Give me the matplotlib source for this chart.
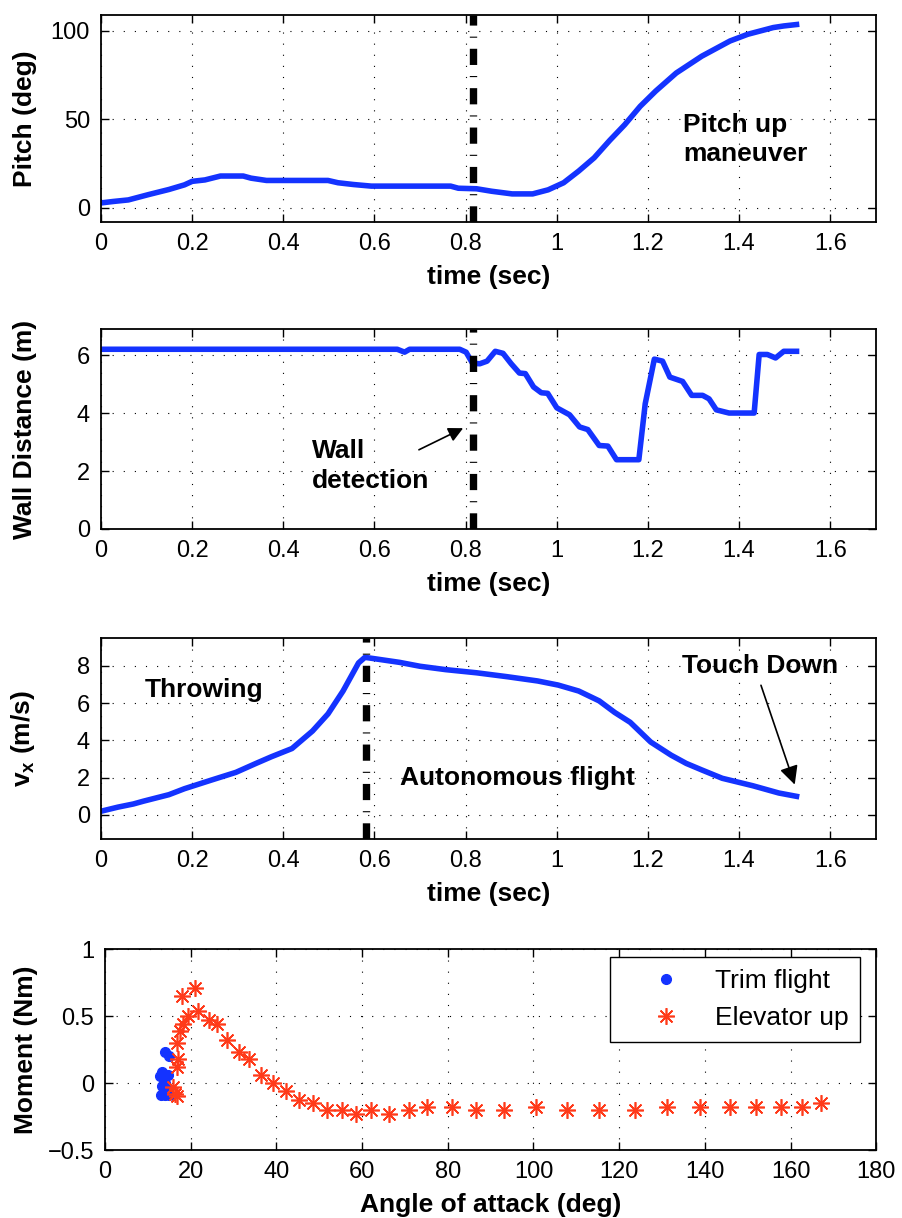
import matplotlib
matplotlib.use("Agg")
import matplotlib.pyplot as plt

plt.rcParams["font.family"] = ["Liberation Sans", "DejaVu Sans"]
plt.rcParams["mathtext.fontset"] = "custom"
plt.rcParams["mathtext.rm"] = "Liberation Sans"
plt.rcParams["mathtext.bf"] = "Liberation Sans:bold"

BLUE = "#1433ff"
RED = "#ff3a1a"

# pitch angle during the flight
pitch_t = [0, 0.026, 0.06, 0.104, 0.149, 0.183, 0.2, 0.228, 0.262, 0.312, 0.329,
           0.363, 0.498, 0.52, 0.554, 0.593, 0.767, 0.784, 0.824, 0.857, 0.902,
           0.947, 0.981, 1.015, 1.048, 1.082, 1.116, 1.149, 1.183, 1.217, 1.262,
           1.318, 1.38, 1.419, 1.475, 1.498, 1.526]
pitch = [2.8, 3.6, 4.5, 7.5, 10.4, 13, 15, 15.8, 18, 18, 16.8,
         15.5, 15.5, 14.2, 13.2, 12.3, 12.3, 11.1, 10.8, 9.4, 7.9,
         7.9, 10.2, 14.2, 20.8, 28.3, 38.1, 47, 57.4, 66, 76.2,
         85.7, 94.3, 98.1, 101.9, 102.8, 103.6]

# sonar wall distance
wall_t = [0, 0.4, 0.65, 0.666, 0.677, 0.787, 0.801, 0.815, 0.831, 0.847, 0.865,
          0.882, 0.9, 0.918, 0.931, 0.949, 0.966, 0.98, 1.0, 1.028, 1.05,
          1.068, 1.093, 1.112, 1.131, 1.18, 1.194, 1.214, 1.232, 1.248, 1.276,
          1.296, 1.32, 1.334, 1.35, 1.378, 1.433, 1.444, 1.462, 1.48, 1.498, 1.526]
wall = [6.2, 6.2, 6.2, 6.1, 6.2, 6.2, 6.1, 5.72, 5.7, 5.79, 6.13,
        6.06, 5.7, 5.38, 5.36, 4.9, 4.7, 4.68, 4.18, 3.94, 3.52,
        3.43, 2.88, 2.86, 2.39, 2.39, 4.32, 5.86, 5.79, 5.24, 5.09,
        4.61, 4.61, 4.49, 4.11, 4.0, 4.0, 6.02, 6.02, 5.9, 6.13, 6.13]

# forward velocity
vx_t = [0, 0.037, 0.071, 0.093, 0.149, 0.183, 0.239, 0.296, 0.34, 0.374, 0.419,
        0.464, 0.498, 0.531, 0.565, 0.579, 0.599, 0.655, 0.7, 0.756, 0.824,
        0.891, 0.958, 1.003, 1.048, 1.093, 1.127, 1.161, 1.206, 1.251, 1.284,
        1.318, 1.363, 1.43, 1.487, 1.526]
vx = [0.19, 0.41, 0.58, 0.73, 1.08, 1.4, 1.84, 2.28, 2.76, 3.12, 3.56,
      4.5, 5.42, 6.65, 8.16, 8.46, 8.39, 8.19, 7.98, 7.8, 7.63,
      7.42, 7.19, 6.97, 6.65, 6.12, 5.5, 4.97, 3.91, 3.2, 2.76,
      2.41, 1.96, 1.56, 1.17, 0.99]

# pitching moment vs angle of attack
trim_aoa = [14.1, 14.9, 13.3, 14.6, 12.9, 13.2, 14.3, 13.0, 14.1, 15.0, 14.0]
trim_moment = [0.23, 0.20, 0.08, 0.06, 0.05, -0.02, -0.02, -0.09, -0.09, -0.09, 0.0]

elev_aoa = [15.8, 16.3, 16.7, 16.7, 17.1, 16.7, 17.5, 18.1, 19.3, 17.9, 21.0,
            21.8, 24.2, 26.1, 28.5, 31.2, 33.7, 36.5, 39.3, 42.2, 45.2,
            48.6, 51.9, 55.3, 58.5, 62.2, 66.3, 71.0, 75.2, 81.0, 86.5,
            93.2, 100.7, 107.9, 115.4, 123.7, 131.2, 138.8, 145.9, 151.9, 157.7,
            162.7, 167.1]
elev_moment = [-0.03, -0.08, -0.10, 0.12, 0.18, 0.30, 0.39, 0.44, 0.50, 0.65, 0.71,
               0.54, 0.47, 0.44, 0.32, 0.23, 0.18, 0.06, 0.0, -0.06, -0.13,
               -0.15, -0.20, -0.20, -0.23, -0.20, -0.23, -0.20, -0.18, -0.18, -0.20,
               -0.20, -0.18, -0.20, -0.20, -0.20, -0.18, -0.18, -0.18, -0.18, -0.18,
               -0.18, -0.15]

time_ticks = [0, 0.2, 0.4, 0.6, 0.8, 1.0, 1.2, 1.4, 1.6]
time_labels = ["0", "0.2", "0.4", "0.6", "0.8", "1", "1.2", "1.4", "1.6"]

WALL_DETECT_T = 0.817
LAUNCH_T = 0.582

TICK_SIZE = 17
LABEL_SIZE = 19
NOTE_SIZE = 19


def style_axes(ax):
    ax.tick_params(direction="in", length=6, width=1, top=True, right=True,
                   labelsize=TICK_SIZE, pad=8)
    ax.grid(True, color="k", linestyle=(0, (1, 9)), linewidth=0.8)
    for s in ax.spines.values():
        s.set_linewidth(1.3)


def time_axes(ax, ylabel):
    ax.set_xlim(0, 1.7)
    ax.set_xticks(time_ticks)
    ax.set_xticklabels(time_labels)
    ax.set_xlabel("time (sec)", fontsize=LABEL_SIZE, fontweight="bold", labelpad=7)
    ax.set_ylabel(ylabel, fontsize=LABEL_SIZE, fontweight="bold")
    ax.yaxis.set_label_coords(-0.082, 0.5)
    style_axes(ax)


def event_line(ax, t):
    ax.axvline(t, color="k", linewidth=5.3, solid_capstyle="butt",
               dash_capstyle="butt", linestyle=(0, (2.2, 1.5, 0.15, 1.5)), zorder=5)


fig = plt.figure(figsize=(9.02, 12.18), dpi=100)

# pitch
ax1 = fig.add_axes([0.112, 0.8177, 0.859, 0.170])
ax1.plot(pitch_t, pitch, color=BLUE, linewidth=4)
event_line(ax1, WALL_DETECT_T)
ax1.set_ylim(-8, 109)
ax1.set_yticks([0, 50, 100])
time_axes(ax1, "Pitch (deg)")
ax1.text(1.277, 42.8, "Pitch up", fontsize=NOTE_SIZE, fontweight="bold", va="baseline")
ax1.text(1.277, 26.4, "maneuver", fontsize=NOTE_SIZE, fontweight="bold", va="baseline")

# wall distance
ax2 = fig.add_axes([0.112, 0.5657, 0.859, 0.1642])
ax2.plot(wall_t, wall, color=BLUE, linewidth=4)
event_line(ax2, WALL_DETECT_T)
ax2.set_ylim(0, 6.9)
ax2.set_yticks([0, 2, 4, 6])
time_axes(ax2, "Wall Distance (m)")
ax2.text(0.462, 2.45, "Wall", fontsize=NOTE_SIZE, fontweight="bold", va="baseline")
ax2.text(0.462, 1.41, "detection", fontsize=NOTE_SIZE, fontweight="bold", va="baseline")
ax2.annotate("", xy=(0.80, 3.52), xytext=(0.692, 2.69),
             arrowprops=dict(arrowstyle="-|>", color="k", lw=1.2, mutation_scale=22),
             zorder=6)

# forward speed
ax3 = fig.add_axes([0.112, 0.3112, 0.859, 0.165])
ax3.plot(vx_t, vx, color=BLUE, linewidth=4)
event_line(ax3, LAUNCH_T)
ax3.set_ylim(-1.3, 9.5)
ax3.set_yticks([0, 2, 4, 6, 8])
time_axes(ax3, r"$\mathbf{v_x}$ (m/s)")
ax3.text(0.096, 6.35, "Throwing", fontsize=NOTE_SIZE, fontweight="bold", va="baseline")
ax3.text(0.657, 1.6, "Autonomous flight", fontsize=NOTE_SIZE, fontweight="bold",
         va="baseline")
ax3.text(1.274, 7.63, "Touch Down", fontsize=NOTE_SIZE, fontweight="bold", va="baseline")
ax3.annotate("", xy=(1.524, 1.48), xytext=(1.446, 7.1),
             arrowprops=dict(arrowstyle="-|>", color="k", lw=1.2, mutation_scale=28))

# moment vs angle of attack
ax4 = fig.add_axes([0.1164, 0.0558, 0.855, 0.165])
ax4.plot(trim_aoa, trim_moment, linestyle="none", marker="o", markersize=7,
         color=BLUE, label="Trim flight")
ax4.plot(elev_aoa, elev_moment, linestyle="none", marker=(8, 2, 0), markersize=12,
         markeredgewidth=1.2, color=RED, label="Elevator up")
ax4.set_xlim(0, 180)
ax4.set_xticks(range(0, 181, 20))
ax4.set_ylim(-0.5, 1)
ax4.set_yticks([-0.5, 0, 0.5, 1])
ax4.set_yticklabels(["\u22120.5", "0", "0.5", "1"])
ax4.set_xlabel("Angle of attack (deg)", fontsize=LABEL_SIZE, fontweight="bold", labelpad=7)
ax4.set_ylabel("Moment (Nm)", fontsize=LABEL_SIZE, fontweight="bold")
ax4.yaxis.set_label_coords(-0.087, 0.5)
style_axes(ax4)
leg = ax4.legend(loc="upper right", bbox_to_anchor=(0.979, 0.96), borderaxespad=0,
                 fontsize=LABEL_SIZE, frameon=True, fancybox=False, framealpha=1,
                 edgecolor="k", handlelength=3.3, handletextpad=0.2, borderpad=0.45,
                 labelspacing=0.5)
leg.get_frame().set_linewidth(1.0)

fig.savefig("out.png", dpi=100)
plt.close(fig)
